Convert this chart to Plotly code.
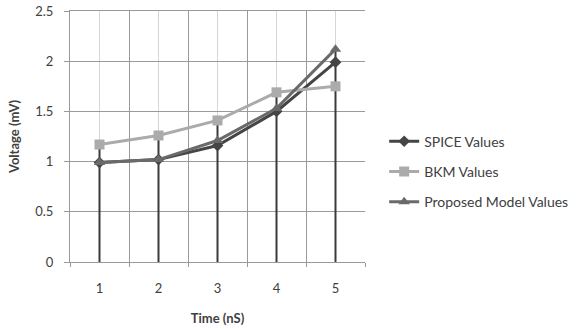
import plotly.graph_objects as go

time_ns = [1, 2, 3, 4, 5]
spice = [0.99, 1.02, 1.16, 1.50, 1.99]
bkm = [1.17, 1.26, 1.41, 1.69, 1.75]
proposed = [0.99, 1.02, 1.21, 1.53, 2.12]
y_ticks = [0, 0.5, 1, 1.5, 2, 2.5]
y_labels = ["0", "0.5", "1", "1.5", "2", "2.5"]

FONT = "Lato"
TXT = "#404040"
fig = go.Figure()

# drop lines from highest value down to the axis
drop_x, drop_y = [], []
for i, t in enumerate(time_ns):
    drop_x += [t, t, None]
    drop_y += [0, max(spice[i], bkm[i], proposed[i]), None]
fig.add_trace(go.Scatter(x=drop_x, y=drop_y, mode="lines", showlegend=False,
                         line=dict(color="#3a3a3a", width=2), hoverinfo="skip"))

fig.add_trace(go.Scatter(x=time_ns, y=spice, name="SPICE Values", mode="lines+markers",
                         legendgroup="a",
                         line=dict(color="#454545", width=3),
                         marker=dict(symbol="diamond", size=9, color="#454545")))
fig.add_trace(go.Scatter(x=time_ns, y=bkm, name="BKM Values", mode="lines+markers",
                         legendgroup="b",
                         line=dict(color="#ababab", width=3),
                         marker=dict(symbol="square", size=10, color="#ababab")))
fig.add_trace(go.Scatter(x=time_ns, y=proposed, name="Proposed Model Values", mode="lines+markers",
                         legendgroup="c",
                         line=dict(color="#6a6a6a", width=3),
                         marker=dict(symbol="triangle-up", size=10, color="#6a6a6a")))

fig.update_layout(
    width=587, height=329,
    margin=dict(l=70, r=222, t=11, b=67),
    paper_bgcolor="white", plot_bgcolor="white",
    font=dict(family=FONT, size=13, color=TXT),
    legend=dict(x=1.065, y=0.36, xanchor="left", yanchor="middle",
                font=dict(family=FONT, size=14, color=TXT),
                bgcolor="rgba(0,0,0,0)", traceorder="grouped", tracegroupgap=9),
    xaxis=dict(range=[0.5, 5.5], tickmode="array", tickvals=time_ns,
               ticktext=[str(t) for t in time_ns], automargin=False,
               showgrid=True, gridcolor="#d6d6d6", gridwidth=1,
               zeroline=False, showline=True, linecolor="#999999", linewidth=1, mirror=True,
               ticks="", ticklabelstandoff=14,
               tickfont=dict(family=FONT, size=13, color=TXT),
               minor=dict(tickvals=[0.5, 1.5, 2.5, 3.5, 4.5, 5.5], showgrid=True,
                          gridcolor="#9a9a9a", gridwidth=1, ticks="outside",
                          ticklen=4, tickcolor="#999999"),
               title=dict(text="<b>Time (nS)</b>", standoff=19,
                          font=dict(family=FONT, size=13, color=TXT))),
    yaxis=dict(range=[0, 2.5], tickmode="array", tickvals=y_ticks, ticktext=y_labels,
               showgrid=True, gridcolor="#9a9a9a", gridwidth=1, automargin=False,
               zeroline=False, showline=True, linecolor="#999999", linewidth=1,
               ticks="outside", ticklen=5, tickcolor="#999999", ticklabelstandoff=8,
               tickfont=dict(family=FONT, size=13, color=TXT),
               title=dict(text="<b>Voltage (mV)</b>", standoff=12,
                          font=dict(family=FONT, size=13, color=TXT))),
)

fig.write_html("out.html")
